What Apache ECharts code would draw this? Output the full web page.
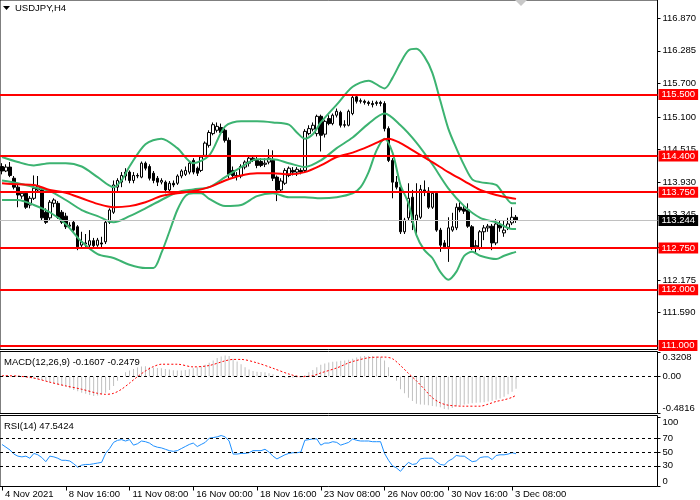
<!DOCTYPE html>
<html>
<head>
<meta charset="utf-8">
<title>USDJPY,H4</title>
<script src="https://cdn.jsdelivr.net/npm/echarts@6/dist/echarts.min.js"></script>
<style>
    html, body { margin: 0; padding: 0; background: #fff; }
    #chart { width: 700px; height: 500px; }
</style>
</head>
<body>
<div id="chart"></div>
<script>
// USDJPY H4, 4 Nov 2021 - 3 Dec 2021, one slot per 4h bar
const slotCount = 165;
const tickLabels = ['4 Nov 2021', '8 Nov 16:00', '11 Nov 08:00', '16 Nov 00:00', '18 Nov 16:00',
    '23 Nov 08:00', '26 Nov 00:00', '30 Nov 16:00', '3 Dec 08:00'];

const opens = [114.21, 114.13, 114.20, 114.00, 113.84, 113.68, 113.73, 113.52, 113.64, 113.79,
    113.79, 113.39, 113.29, 113.55, 113.55, 113.39, 113.32, 113.14, 113.21, 113.13,
    112.80, 112.82, 112.80, 112.88, 112.80, 112.84, 112.86, 113.21, 113.39, 113.84,
    113.93, 114.04, 114.11, 113.96, 114.05, 114.02, 114.27, 114.21, 114.09, 114.00,
    113.93, 113.93, 113.79, 113.91, 113.91, 114.04, 114.07, 114.11, 114.32, 114.18,
    114.14, 114.41, 114.59, 114.80, 114.86, 114.91, 114.86, 114.68, 114.14, 114.05,
    114.04, 114.20, 114.27, 114.36, 114.32, 114.30, 114.25, 114.29, 114.32, 114.02,
    113.79, 113.91, 114.05, 114.14, 114.11, 114.14, 114.14, 114.80, 114.88, 114.80,
    115.11, 114.79, 115.07, 114.98, 115.13, 115.18, 114.96, 114.95, 115.16, 115.46,
    115.39, 115.38, 115.36, 115.34, 115.34, 115.36, 115.34, 114.89, 114.32, 113.93,
    113.84, 113.04, 113.29, 113.66, 113.25, 113.30, 113.79, 113.77, 113.48, 113.73,
    113.07, 112.84, 112.77, 113.07, 113.11, 113.48, 113.45, 113.43, 113.13, 112.77,
    112.75, 113.04, 113.11, 113.14, 112.84, 113.16, 113.02, 113.11, 113.20, 113.30];
const closes = [114.13, 114.20, 114.05, 113.84, 113.70, 113.73, 113.48, 113.64, 113.82, 113.86,
    113.29, 113.21, 113.57, 113.61, 113.30, 113.21, 113.13, 113.16, 113.07, 112.77,
    112.86, 112.84, 112.88, 112.79, 112.89, 112.82, 113.21, 113.43, 113.88, 113.96,
    114.05, 114.11, 113.96, 114.05, 114.04, 114.27, 114.18, 114.00, 113.96, 113.93,
    113.96, 113.79, 113.91, 113.88, 114.04, 114.13, 114.14, 114.27, 114.11, 114.09,
    114.38, 114.63, 114.82, 114.96, 114.93, 114.82, 114.68, 114.07, 114.05, 114.04,
    114.21, 114.29, 114.36, 114.32, 114.23, 114.23, 114.27, 114.36, 114.00, 113.79,
    113.95, 114.14, 114.18, 114.11, 114.16, 114.11, 114.84, 114.89, 114.95, 115.11,
    114.77, 115.02, 114.98, 115.13, 115.20, 114.95, 114.95, 115.20, 115.45, 115.38,
    115.38, 115.36, 115.34, 115.32, 115.36, 115.34, 114.89, 114.32, 113.93, 113.84,
    113.04, 113.25, 113.64, 113.21, 113.34, 113.80, 113.75, 113.48, 113.73, 113.07,
    112.80, 112.77, 113.11, 113.13, 113.48, 113.43, 113.41, 113.14, 112.75, 112.79,
    113.04, 113.11, 113.14, 112.84, 113.18, 113.11, 113.07, 113.18, 113.30, 113.244];
const lows = [114.07, 114.11, 114.02, 113.80, 113.48, 113.63, 113.45, 113.46, 113.61, 113.75,
    113.25, 113.18, 113.25, 113.48, 113.27, 113.18, 113.09, 113.11, 113.04, 112.71,
    112.75, 112.75, 112.75, 112.75, 112.77, 112.75, 112.82, 113.18, 113.36, 113.75,
    113.84, 113.96, 113.91, 113.91, 114.00, 114.00, 114.14, 113.96, 113.91, 113.86,
    113.89, 113.73, 113.75, 113.84, 113.88, 114.00, 114.04, 114.07, 114.07, 114.04,
    114.11, 114.38, 114.55, 114.77, 114.82, 114.79, 114.64, 114.00, 114.02, 113.96,
    114.00, 114.16, 114.21, 114.29, 114.18, 114.20, 114.20, 114.25, 113.95, 113.59,
    113.75, 113.88, 114.02, 114.05, 114.04, 114.07, 114.11, 114.77, 114.84, 114.75,
    114.48, 114.73, 114.95, 114.95, 115.09, 114.91, 114.91, 114.93, 115.13, 115.34,
    115.34, 115.32, 115.30, 115.27, 115.30, 115.29, 114.84, 114.29, 113.64, 113.80,
    113.00, 113.00, 113.25, 113.07, 112.98, 113.27, 113.68, 113.45, 113.45, 113.04,
    112.68, 112.73, 112.50, 113.04, 113.07, 113.39, 113.36, 113.11, 112.71, 112.66,
    112.71, 112.89, 113.04, 112.71, 112.80, 113.04, 112.95, 113.07, 113.16, 113.20];
const highs = [114.27, 114.25, 114.29, 114.04, 113.88, 113.77, 113.77, 113.68, 114.05, 114.04,
    113.82, 113.46, 113.61, 113.64, 113.59, 113.43, 113.38, 113.21, 113.25, 113.16,
    113.04, 113.00, 113.07, 112.93, 112.93, 112.95, 113.25, 113.46, 113.96, 114.00,
    114.11, 114.18, 114.14, 114.11, 114.09, 114.30, 114.30, 114.25, 114.13, 114.04,
    114.00, 113.96, 113.95, 113.96, 114.07, 114.16, 114.21, 114.30, 114.36, 114.21,
    114.41, 114.66, 114.86, 115.00, 115.00, 114.98, 114.89, 114.73, 114.21, 114.11,
    114.25, 114.32, 114.39, 114.41, 114.38, 114.36, 114.36, 114.52, 114.50, 114.05,
    114.00, 114.18, 114.21, 114.20, 114.20, 114.18, 114.88, 114.95, 115.00, 115.14,
    115.14, 115.05, 115.13, 115.16, 115.25, 115.21, 115.04, 115.23, 115.48, 115.50,
    115.43, 115.41, 115.39, 115.39, 115.39, 115.39, 115.38, 114.93, 114.36, 114.04,
    113.88, 113.29, 113.91, 113.79, 113.91, 113.88, 113.96, 113.84, 113.77, 113.77,
    113.11, 112.89, 113.30, 113.38, 113.55, 113.57, 113.52, 113.55, 113.16, 112.89,
    113.07, 113.16, 113.18, 113.18, 113.27, 113.25, 113.25, 113.29, 113.48, 113.34];

// Bollinger bands (20,2) and moving average, read at [bar, price]
const upperBand = [[0, 114.38], [4, 114.29], [8, 114.23], [12, 114.27], [16, 114.27], [20, 114.21], [24, 114.02],
    [28, 113.84], [30, 113.96], [32, 114.21], [36, 114.61], [40, 114.71], [44, 114.54], [48, 114.27], [52, 114.41],
    [56, 114.93], [60, 115.02], [64, 115.02], [68, 115.00], [72, 114.96], [74, 114.82], [76, 114.71], [78, 114.79],
    [80, 115.00], [84, 115.32], [88, 115.64], [92, 115.75], [96, 115.61], [98, 115.80], [100, 116.07], [102, 116.29],
    [104, 116.32], [106, 116.18], [108, 115.89], [110, 115.39], [112, 114.89], [114, 114.54], [116, 114.23],
    [118, 113.98], [120, 113.93], [124, 113.88], [126, 113.70], [128, 113.55], [129, 113.55]];
const middleBand = [[0, 113.96], [4, 113.91], [8, 113.84], [12, 113.77], [16, 113.61], [20, 113.43], [24, 113.32],
    [28, 113.21], [32, 113.32], [36, 113.46], [40, 113.61], [44, 113.75], [48, 113.80], [52, 113.84], [56, 114.02],
    [60, 114.20], [64, 114.34], [68, 114.34], [72, 114.27], [76, 114.20], [80, 114.32], [84, 114.54], [88, 114.73],
    [92, 114.98], [96, 115.16], [100, 114.95], [104, 114.64], [108, 114.25], [112, 113.82], [116, 113.50],
    [120, 113.29], [124, 113.21], [128, 113.09], [129, 113.09]];
const lowerBand = [[0, 113.61], [4, 113.61], [8, 113.52], [12, 113.39], [16, 113.18], [20, 112.86], [24, 112.64],
    [28, 112.57], [32, 112.45], [36, 112.39], [38, 112.39], [40, 112.66], [42, 113.04], [44, 113.43], [46, 113.68],
    [48, 113.73], [50, 113.73], [52, 113.63], [56, 113.50], [60, 113.52], [64, 113.68], [68, 113.73], [72, 113.66],
    [76, 113.66], [80, 113.64], [84, 113.66], [88, 113.73], [90, 113.84], [92, 114.11], [94, 114.50], [96, 114.71],
    [98, 114.46], [100, 113.88], [102, 113.55], [104, 112.98], [106, 112.71], [108, 112.57], [110, 112.32],
    [112, 112.18], [114, 112.32], [116, 112.61], [118, 112.68], [120, 112.61], [124, 112.55], [126, 112.61],
    [128, 112.66], [129, 112.68]];
const movingAvg = [[0, 113.91], [4, 113.89], [8, 113.88], [12, 113.79], [16, 113.74], [20, 113.64], [24, 113.54],
    [28, 113.48], [32, 113.50], [36, 113.57], [40, 113.68], [44, 113.73], [48, 113.77], [52, 113.84], [56, 113.96],
    [60, 114.05], [64, 114.09], [68, 114.09], [72, 114.07], [76, 114.11], [80, 114.23], [84, 114.38], [88, 114.46],
    [92, 114.57], [96, 114.70], [97, 114.71], [100, 114.63], [104, 114.46], [108, 114.29], [112, 114.11],
    [116, 113.95], [120, 113.79], [124, 113.70], [128, 113.64], [129, 113.63]];

const levels = [115.5, 114.4, 113.75, 112.75, 112.0, 111.0];
const lastPrice = 113.244;
const priceTicks = [111.590, 112.175, 112.760, 113.345, 113.930, 114.515, 115.100, 115.700, 116.285, 116.870];

// MACD(12,26,9)
const macdHist = [0.005, 0.002, -0.002, -0.006, -0.008, -0.010, -0.013, -0.025, -0.036, -0.042,
    -0.049, -0.065, -0.080, -0.095, -0.111, -0.122, -0.134, -0.156, -0.178, -0.196,
    -0.214, -0.230, -0.245, -0.258, -0.250, -0.236, -0.214, -0.178, -0.125, -0.058,
    0.005, 0.053, 0.076, 0.098, 0.116, 0.129, 0.134, 0.125, 0.116, 0.111,
    0.107, 0.098, 0.089, 0.080, 0.076, 0.076, 0.085, 0.094, 0.107, 0.120,
    0.134, 0.152, 0.178, 0.209, 0.241, 0.263, 0.276, 0.267, 0.232, 0.196,
    0.160, 0.120, 0.089, 0.071, 0.062, 0.058, 0.053, 0.040, 0.027, 0.009,
    -0.004, -0.018, -0.022, -0.018, -0.013, 0.002, 0.018, 0.053, 0.085, 0.120,
    0.152, 0.169, 0.183, 0.192, 0.196, 0.205, 0.209, 0.218, 0.232, 0.250,
    0.263, 0.267, 0.267, 0.267, 0.263, 0.254, 0.209, 0.120, -0.005, -0.058,
    -0.169, -0.223, -0.281, -0.325, -0.361, -0.370, -0.374, -0.379, -0.388, -0.397,
    -0.406, -0.428, -0.437, -0.415, -0.392, -0.379, -0.370, -0.361, -0.352, -0.348,
    -0.343, -0.339, -0.330, -0.321, -0.308, -0.290, -0.267, -0.236, -0.201, -0.161];
const macdSignal = [[0, 0.009], [4, 0.004], [8, -0.022], [12, -0.076], [16, -0.125], [20, -0.169], [24, -0.223],
    [26, -0.236], [28, -0.223], [30, -0.169], [32, -0.089], [34, -0.004], [36, 0.071], [38, 0.129], [40, 0.160],
    [44, 0.160], [48, 0.125], [52, 0.143], [56, 0.205], [58, 0.223], [60, 0.223], [64, 0.178], [68, 0.107],
    [72, 0.031], [75, -0.004], [78, 0.009], [80, 0.045], [84, 0.111], [87, 0.178], [88, 0.196], [92, 0.245],
    [96, 0.254], [98, 0.232], [100, 0.143], [102, 0.040], [104, -0.058], [106, -0.169], [108, -0.281],
    [110, -0.348], [112, -0.379], [116, -0.392], [120, -0.392], [122, -0.365], [124, -0.330], [126, -0.308],
    [128, -0.276], [129, -0.248]];
const macdTicks = [-0.4816, 0, 0.3208];

// RSI(14)
const rsi = [61, 57, 53, 47, 44, 43, 44, 41, 48, 46, 42, 36, 44, 43, 41, 38, 38, 37, 33, 28,
    31, 32, 32, 33, 34, 35, 48, 55, 64, 67, 68, 66, 68, 60, 62, 66, 65, 63, 59, 57,
    56, 54, 52, 51, 52, 55, 58, 61, 63, 58, 61, 64, 70, 71, 72, 74, 72, 66, 47, 47,
    48, 48, 49, 52, 52, 52, 54, 50, 44, 40, 43, 46, 48, 49, 49, 50, 67, 68, 69, 69,
    60, 63, 63, 65, 64, 60, 62, 64, 69, 67, 66, 66, 66, 65, 65, 65, 48, 38, 30, 27,
    22, 29, 35, 32, 33, 40, 41, 41, 41, 36, 32, 31, 37, 40, 45, 44, 44, 40, 36, 37,
    42, 43, 43, 39, 45, 46, 46, 47, 49, 47.54];
const rsiLevels = [30, 50, 70];
const rsiTicks = [0, 30, 50, 70, 100];

const FONT = 'Liberation Sans';
const FS = 9.5;
const slots = Array.from({length: slotCount}, (_, i) => i);
const candles = opens.map((o, i) => [o, closes[i], lows[i], highs[i]]);
const isTick = i => i % 16 === 0 && i / 16 < tickLabels.length;

function xAxisFor(gridIndex, withLabels) {
    return {
        type: 'category',
        gridIndex: gridIndex,
        data: slots,
        boundaryGap: true,
        axisLine: {show: false},
        axisTick: {
            show: withLabels,
            interval: isTick,
            alignWithLabel: true,
            length: 4,
            lineStyle: {color: '#000'}
        },
        axisLabel: {
            show: withLabels,
            interval: isTick,
            formatter: v => tickLabels[v / 16],
            align: 'left',
            padding: [0, 0, 0, 3],
            margin: 3,
            fontFamily: FONT,
            fontSize: FS,
            color: '#000'
        },
        splitLine: {show: false}
    };
}

function yAxisFor(gridIndex, min, max, ticks, fmt, pinEnds) {
    return {
        type: 'value',
        gridIndex: gridIndex,
        position: 'right',
        min: min,
        max: max,
        scale: true,
        splitLine: {show: false},
        axisLine: {show: false},
        axisTick: {show: true, customValues: ticks, length: 3, lineStyle: {color: '#000'}},
        axisLabel: {
            customValues: ticks,
            formatter: fmt,
            margin: 5,
            fontFamily: FONT,
            fontSize: FS,
            color: '#000',
            verticalAlignMinLabel: pinEnds ? 'bottom' : undefined,
            verticalAlignMaxLabel: pinEnds ? 'top' : undefined
        }
    };
}

function dashedLevels(values) {
    return {
        silent: true,
        symbol: 'none',
        label: {show: false},
        lineStyle: {color: '#000', type: [3, 3], width: 1},
        data: values.map(v => ({yAxis: v}))
    };
}

const levelLabel = (bg) => ({
    show: true,
    position: 'end',
    distance: 1,
    formatter: p => Number(p.value).toFixed(3),
    color: '#fff',
    backgroundColor: bg,
    padding: [1, 3, 0, 3],
    fontFamily: FONT,
    fontSize: FS
});

const chart = echarts.init(document.getElementById('chart'));
chart.setOption({
    animation: false,
    backgroundColor: '#fff',
    grid: [
        {left: -3, right: 42.5, top: -1, height: 350.5, show: true, borderColor: '#000', borderWidth: 1},
        {left: -3, right: 42.5, top: 351.5, height: 62, show: true, borderColor: '#000', borderWidth: 1},
        {left: -3, right: 42.5, top: 415.5, height: 71, show: true, borderColor: '#000', borderWidth: 1}
    ],
    xAxis: [xAxisFor(0, false), xAxisFor(1, false), xAxisFor(2, true)],
    yAxis: [
        yAxisFor(0, 110.929, 117.196, priceTicks, v => v.toFixed(3), false),
        yAxisFor(1, -0.4882, 0.3274, macdTicks, v => (v === 0 ? '0.00' : v.toFixed(4)), true),
        yAxisFor(2, 0, 103, rsiTicks, v => String(v), true)
    ],
    graphic: [
        {type: 'polygon', shape: {points: [[3, 6], [10, 6], [6.5, 10]]}, style: {fill: '#000'}},
        {type: 'text', x: 15, y: 8, style: {text: 'USDJPY,H4', font: FS + 'px ' + FONT, fill: '#000', verticalAlign: 'middle'}},
        {type: 'polygon', shape: {points: [[515, 0], [527, 0], [521, 6]]}, style: {fill: '#c8c8c8'}},
        {type: 'text', x: 4, y: 362, z: 10, style: {text: 'MACD(12,26,9) -0.1607 -0.2479', font: FS + 'px ' + FONT, fill: '#000', verticalAlign: 'middle'}},
        {type: 'text', x: 4, y: 426, z: 10, style: {text: 'RSI(14) 47.5424', font: FS + 'px ' + FONT, fill: '#000', verticalAlign: 'middle'}}
    ],
    series: [
        {
            name: 'USDJPY',
            type: 'candlestick',
            xAxisIndex: 0,
            yAxisIndex: 0,
            data: candles,
            barWidth: 3,
            itemStyle: {
                color: '#fff',
                color0: '#000',
                borderColor: '#000',
                borderColor0: '#000',
                borderWidth: 1
            },
            markLine: {
                silent: true,
                symbol: 'none',
                precision: 3,
                data: levels.map(v => ({
                    yAxis: v,
                    lineStyle: {color: '#ff0000', width: 2, type: 'solid'},
                    label: levelLabel('#ff0000')
                })).concat([{
                    yAxis: lastPrice,
                    lineStyle: {color: '#c0c0c0', width: 1, type: 'solid'},
                    label: levelLabel('#000')
                }])
            }
        },
        {type: 'line', xAxisIndex: 0, yAxisIndex: 0, data: upperBand, showSymbol: false, smooth: 0.3,
            lineStyle: {color: '#3cb371', width: 2}, z: 3},
        {type: 'line', xAxisIndex: 0, yAxisIndex: 0, data: middleBand, showSymbol: false, smooth: 0.3,
            lineStyle: {color: '#3cb371', width: 2}, z: 3},
        {type: 'line', xAxisIndex: 0, yAxisIndex: 0, data: lowerBand, showSymbol: false, smooth: 0.3,
            lineStyle: {color: '#3cb371', width: 2}, z: 3},
        {type: 'line', xAxisIndex: 0, yAxisIndex: 0, data: movingAvg, showSymbol: false, smooth: 0.3,
            lineStyle: {color: '#ff0000', width: 2}, z: 3},
        {
            type: 'bar',
            xAxisIndex: 1,
            yAxisIndex: 1,
            data: macdHist,
            barWidth: 1,
            itemStyle: {color: '#c0c0c0'},
            markLine: dashedLevels([0])
        },
        {type: 'line', xAxisIndex: 1, yAxisIndex: 1, data: macdSignal, showSymbol: false, smooth: 0.3,
            lineStyle: {color: '#ff0000', width: 1, type: [2, 2]}, z: 3},
        {
            type: 'line',
            xAxisIndex: 2,
            yAxisIndex: 2,
            data: rsi,
            showSymbol: false,
            lineStyle: {color: '#1e90ff', width: 1},
            markLine: dashedLevels(rsiLevels)
        }
    ]
});
</script>
</body>
</html>
